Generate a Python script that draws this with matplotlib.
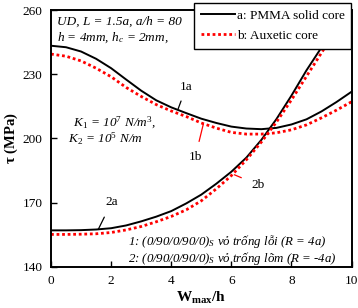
import matplotlib
matplotlib.use("Agg")
import matplotlib.pyplot as plt


# --------------------------------------------------
# DATA
# --------------------------------------------------

w = [0.0, 0.5, 1.0, 1.5, 2.0, 2.5, 3.0, 3.5, 4.0, 4.5, 5.0,
     5.5, 6.0, 6.5, 7.0, 7.5, 8.0, 8.5, 9.0, 9.5, 10.0]

tau_1a = [243.3, 242.6, 240.6, 237.2, 232.8, 227.5, 222.3, 217.8, 214.5, 211.8, 209.2,
          207.2, 205.5, 204.6, 204.3, 204.9, 206.5, 208.9, 212.6, 217.0, 221.8]

tau_1b = [239.4, 238.4, 236.2, 232.8, 228.8, 223.8, 219.6, 215.8, 212.8, 210.2, 207.2,
          204.8, 202.8, 202.0, 202.0, 202.6, 204.0, 206.3, 209.6, 213.2, 217.1]

tau_2a = [157.0, 157.0, 157.1, 157.4, 158.0, 159.3, 161.2, 163.4, 166.0, 169.6, 173.7,
          178.8, 184.4, 191.0, 199.3, 209.0, 220.0, 231.8, 242.5, 253.0, 263.5]

tau_2b = [155.1, 155.1, 155.2, 155.4, 156.0, 157.2, 158.8, 161.0, 163.5, 166.6, 170.8,
          176.4, 182.6, 190.0, 198.3, 207.6, 218.0, 229.0, 240.0, 251.0, 262.0]

x_ticks = [0, 2, 4, 6, 8, 10]
y_ticks = [140, 170, 200, 230, 260]


# --------------------------------------------------
# STYLE
# --------------------------------------------------

plt.rcParams["font.family"] = ["Liberation Serif", "DejaVu Serif"]
plt.rcParams["mathtext.fontset"] = "custom"
plt.rcParams["mathtext.rm"] = "Liberation Serif"
plt.rcParams["mathtext.it"] = "Liberation Serif:italic"
plt.rcParams["mathtext.bf"] = "Liberation Serif:bold"

fig = plt.figure(figsize=(3.58, 3.08), dpi=100)
ax = fig.add_axes([0.1425, 0.134, 0.8395, 0.8335])

ax.plot(w, tau_1a, color="black", lw=1.4, label="a: PMMA solid core")
ax.plot(w, tau_1b, color="red", lw=2.0, ls=(0, (1, 1)), label="b: Auxetic core")
ax.plot(w, tau_2a, color="black", lw=1.4)
ax.plot(w, tau_2b, color="red", lw=2.0, ls=(0, (1, 1)))

ax.set_xlim(0, 10)
ax.set_ylim(140, 260)
ax.set_xticks(x_ticks)
ax.set_yticks(y_ticks)
ax.tick_params(direction="in", length=4, width=1, labelsize=9.5, pad=6)
for s in ax.spines.values():
    s.set_linewidth(1.4)

ax.set_xlabel(r"$\mathbf{W_{max}/h}$", fontsize=11, labelpad=2)
ax.set_ylabel(r"$\mathbf{\tau}$ (MPa)", fontsize=10.5, fontweight="bold", labelpad=2)


# --------------------------------------------------
# TEXTS
# --------------------------------------------------

ax.text(0.2, 257.5, "UD, L = 1.5a, a/h = 80", fontsize=9.5, style="italic", va="top")
ax.text(0.2, 250.5, r"h = 4mm, h$_c$ = 2mm,", fontsize=9.5, style="italic", va="top")
ax.text(0.73, 207.0, r"K$_1$ = 10$^7$ N/m$^3$,", fontsize=9.5, style="italic", va="center")
ax.text(0.57, 200.0, r"K$_2$ = 10$^5$ N/m", fontsize=9.5, style="italic", va="center")
ax.text(2.56, 147.9,
        "1: (0/90/0/90/0)$_S$ vỏ trống lỗi (R = 4a)\n"
        "2: (0/90/0/90/0)$_S$ vỏ trống lõm (R = -4a)",
        fontsize=9.3, style="italic", ha="left", va="center", linespacing=1.0)

ax.annotate("1a", xy=(4.23, 213.8), xytext=(4.5, 224.0), fontsize=9.5,
            ha="center", va="center",
            arrowprops=dict(arrowstyle="-", color="black", lw=0.9, shrinkA=4, shrinkB=0))
ax.annotate("1b", xy=(5.07, 206.8), xytext=(4.8, 191.3), fontsize=9.5,
            ha="center", va="center",
            arrowprops=dict(arrowstyle="-", color="red", lw=0.9, shrinkA=5, shrinkB=0))
ax.annotate("2a", xy=(1.57, 157.4), xytext=(2.02, 170.2), fontsize=9.5,
            ha="center", va="center",
            arrowprops=dict(arrowstyle="-", color="black", lw=0.9, shrinkA=5, shrinkB=0))
ax.annotate("2b", xy=(6.1, 183.0), xytext=(6.9, 178.2), fontsize=9.5,
            ha="center", va="center",
            arrowprops=dict(arrowstyle="-", color="red", lw=0.9, shrinkA=6, shrinkB=0))

leg = ax.legend(loc="upper left", bbox_to_anchor=(0.476, 1.027), borderaxespad=0,
                fontsize=9.5, frameon=True, fancybox=False, edgecolor="black",
                framealpha=1, handlelength=2.6, handletextpad=0.15,
                borderpad=0.5, labelspacing=0.6)
leg.get_frame().set_linewidth(1.0)

fig.savefig("out.png", dpi=100)
